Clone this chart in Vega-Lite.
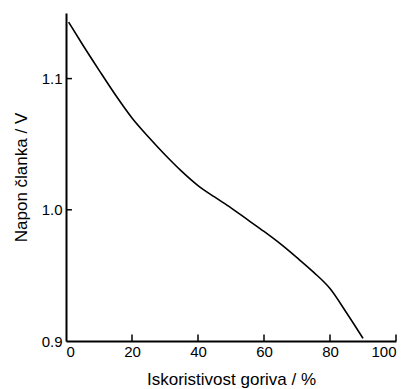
{
  "$schema": "https://vega.github.io/schema/vega-lite/v6.json",
  "width": 330,
  "height": 328,
  "autosize": {"type": "none"},
  "padding": {"left": 66, "top": 13, "right": 10, "bottom": 48},
  "background": "white",
  "config": {
    "view": {"stroke": null},
    "font": "Liberation Sans",
    "axis": {
      "grid": false,
      "ticks": false,
      "domainColor": "black",
      "domainWidth": 2,
      "labelColor": "black",
      "labelFontSize": 15,
      "titleColor": "black",
      "titleFontSize": 17,
      "titleFontWeight": "normal",
      "labelFont": "Liberation Sans",
      "titleFont": "Liberation Sans"
    }
  },
  "datasets": {
    "curve": [
      {"x": 0.8, "y": 1.143},
      {"x": 5, "y": 1.126},
      {"x": 10, "y": 1.1065},
      {"x": 15, "y": 1.0875},
      {"x": 20, "y": 1.07},
      {"x": 25, "y": 1.0555},
      {"x": 30, "y": 1.042},
      {"x": 35, "y": 1.0295},
      {"x": 40, "y": 1.0185},
      {"x": 45, "y": 1.0098},
      {"x": 50, "y": 1.0015},
      {"x": 55, "y": 0.9925},
      {"x": 60, "y": 0.9835},
      {"x": 65, "y": 0.974},
      {"x": 70, "y": 0.9635},
      {"x": 75, "y": 0.9525},
      {"x": 80, "y": 0.94},
      {"x": 85, "y": 0.9215},
      {"x": 90, "y": 0.902}
    ],
    "xticks": [{"x": 20}, {"x": 40}, {"x": 60}, {"x": 80}, {"x": 100}],
    "yticks": [{"y": 1.0}, {"y": 1.1}]
  },
  "layer": [
    {
      "data": {"name": "curve"},
      "mark": {"type": "line", "color": "black", "strokeWidth": 1.6, "interpolate": "monotone"},
      "encoding": {
        "x": {
          "field": "x", "type": "quantitative",
          "scale": {"domain": [0, 100], "nice": false},
          "axis": {"values": [0, 20, 40, 60, 80, 100], "title": "Iskoristivost goriva / %", "labelPadding": 3, "titlePadding": 12}
        },
        "y": {
          "field": "y", "type": "quantitative",
          "scale": {"domain": [0.9, 1.15], "nice": false, "zero": false},
          "axis": {"values": [0.9, 1.0, 1.1], "format": ".1f", "title": "Napon članka / V", "labelPadding": 4, "titlePadding": 11}
        }
      }
    },
    {
      "data": {"name": "xticks"},
      "mark": {"type": "rule", "color": "black", "strokeWidth": 1.5},
      "encoding": {
        "x": {"field": "x", "type": "quantitative"},
        "y": {"datum": 0.9, "type": "quantitative"},
        "y2": {"datum": 0.905}
      }
    },
    {
      "data": {"name": "yticks"},
      "mark": {"type": "rule", "color": "black", "strokeWidth": 1.5},
      "encoding": {
        "y": {"field": "y", "type": "quantitative"},
        "x": {"datum": 0, "type": "quantitative"},
        "x2": {"datum": 1.8}
      }
    }
  ]
}
